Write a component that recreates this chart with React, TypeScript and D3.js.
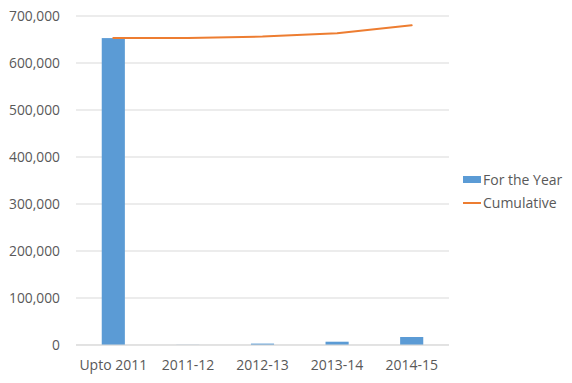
import React from "react";
import * as d3 from "d3";

const categories = ["Upto 2011", "2011-12", "2012-13", "2013-14", "2014-15"];
const forTheYear = [653000, 300, 3000, 7000, 17000];
const cumulative = [653000, 653300, 656300, 663300, 680300];
const yTicks = [0, 100000, 200000, 300000, 400000, 500000, 600000, 700000];

const W = 572, H = 383;
const left = 76, right = 449, top = 16, bottom = 345;
const font = "'Open Sans', sans-serif";

export default function App() {
  const x = d3.scaleBand<string>().domain(categories).range([left, right]).paddingInner(0.69).paddingOuter(0.345);
  const xc = d3.scalePoint<string>().domain(categories).range([left, right]).padding(0.5);
  const y = d3.scaleLinear().domain([0, 700000]).range([bottom, top]);
  const fmt = d3.format(",");
  const line = d3.line<number>().x((_, i) => xc(categories[i])!).y(d => y(d));
  return (
    <svg width={W} height={H} style={{ position: "absolute", left: 0, top: 0 }}>
      <rect width={W} height={H} fill="#fff" />
      {yTicks.map(t => (
        <g key={t}>
          <line x1={left} x2={right} y1={y(t)} y2={y(t)} stroke="#d9d9d9" strokeWidth={1} />
          <text x={60} y={y(t)} dy="0.35em" textAnchor="end" fontFamily={font} fontSize={13.8} fill="#595959">{fmt(t)}</text>
        </g>
      ))}
      {categories.map((c, i) => (
        <rect key={c} x={x(c)} width={x.bandwidth()} y={y(forTheYear[i])} height={bottom - y(forTheYear[i])} fill="#5b9bd5" />
      ))}
      <line x1={left} x2={right} y1={bottom} y2={bottom} stroke="#d9d9d9" />
      <path d={line(cumulative)!} fill="none" stroke="#ed7d31" strokeWidth={2} strokeLinecap="round" strokeLinejoin="round" />
      {categories.map(c => (
        <text key={c} x={xc(c)} y={370} textAnchor="middle" fontFamily={font} fontSize={14} fill="#595959">{c}</text>
      ))}
      <rect x={463} y={176} width={18} height={7} fill="#5b9bd5" />
      <text x={483} y={184.5} fontFamily={font} fontSize={14} fill="#595959">For the Year</text>
      <line x1={463} x2={481} y1={203} y2={203} stroke="#ed7d31" strokeWidth={2} />
      <text x={483} y={208} fontFamily={font} fontSize={14} fill="#595959">Cumulative</text>
    </svg>
  );
}
